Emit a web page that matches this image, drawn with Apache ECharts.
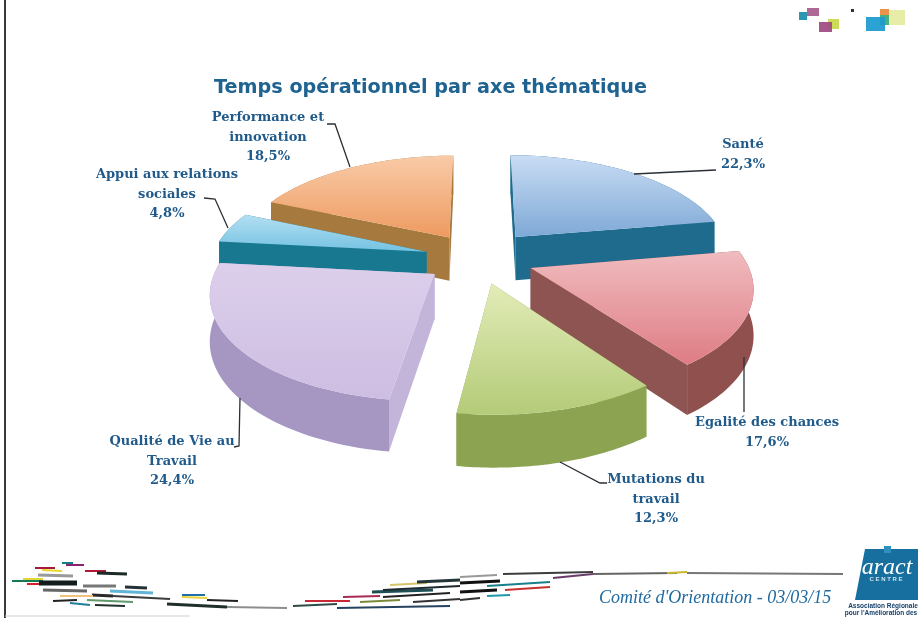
<!DOCTYPE html>
<html><head><meta charset="utf-8">
<style>html,body{margin:0;padding:0;background:#fff}#c{width:918px;height:618px;filter:blur(0.45px)}</style>
<script src="https://cdn.jsdelivr.net/npm/echarts@6/dist/echarts.min.js"></script>
</head><body><div id="c"></div>
<script>
// --- chart data, clockwise from 12 o'clock ---
const categories = ['Santé', 'Egalité des chances', 'Mutations du travail', 'Qualité de Vie au Travail', 'Appui aux relations sociales', 'Performance et innovation'];
const labelLines = [['Santé'], ['Egalité des chances'], ['Mutations du', 'travail'], ['Qualité de Vie au', 'Travail'], ['Appui aux relations', 'sociales'], ['Performance et', 'innovation']];
const values = [22.3, 17.6, 12.3, 24.4, 4.8, 18.5];

// --- styling, kept apart from the data ---
const topColors = [['#c9dcf4', '#7ea9d6'], ['#f0bcbf', '#de7c84'], ['#e2ecb8', '#b4cb78'], ['#dccfeb', '#cdbde2'], ['#b4dff2', '#74c2e2'], ['#f9cba8', '#ee9a60']];
const wallColors = ['#1f6b8e', '#8f504e', '#8ca451', '#a596c2', '#17788f', '#a67a3e'];
const cutColors = ['#1f6b8e', '#8e5452', '#8ca451', '#c2b5d9', '#17788f', '#a67a3e'];
const explodes = [0.28, 0.26, 0.25, 0.25, 0.25, 0.25];
const paintOrder = [5, 0, 4, 1, 3, 2];
const labelAnchors = [[743, 145], [767, 423], [656, 480], [172, 442], [167, 175], [268, 118]];
const leaders = [
  [[634, 174], [716, 170]],
  [[744, 357], [744, 412]],
  [[560, 462], [600, 483], [607, 483]],
  [[240, 398], [239, 446], [234, 447]],
  [[204, 198], [215, 199], [228, 228]],
  [[327, 124], [335, 124], [350, 167]]
];
const ribbons = [
 [62,563,73,563,'#127f86',2],[66,565,84,565,'#8a2270',2],[35,568,55,568,'#a5183f',2],[42,570,62,571,'#e6d92a',2],
 [85,571,106,571,'#b01838',2],[97,573,127,574,'#1c2b26',3],[38,575,73,576,'#9a9a9a',3],[12,581,43,581,'#137a55',2],
 [23,579,43,579,'#e2d63a',2],[27,584,40,584,'#d4202a',2],[39,583,77,583,'#141c20',5],[83,586,116,586,'#777',3],
 [125,587,147,588,'#24333a',3],[43,590,87,591,'#666',3],[110,591,153,593,'#63b4d6',3],[92,595,113,596,'#2a2a2a',3],
 [60,596,93,596,'#f0c27a',2],[113,596,170,599,'#3c3c3c',2],[53,601,77,600,'#222',2],[70,603,90,605,'#1f7f99',2],
 [95,605,125,606,'#23302c',2],[87,600,133,602,'#5f9a6a',2],[182,595,205,595,'#1e6fa8',2],[182,597,207,598,'#e9d33c',2],
 [207,600,238,601,'#222',2],[167,604,227,607,'#1f2f2c',3],[227,607,287,608,'#8d8d8d',2],[305,601,350,601,'#c82a35',2],
 [293,606,337,604,'#2c4c48',2],[337,608,450,606,'#25435f',2],[343,597,380,596,'#a82a56',2],[360,602,400,600,'#7a8a3a',2],
 [372,592,433,590,'#1d4f55',3],[390,585,427,583,'#d6c56a',2],[417,582,460,580,'#24353a',3],[383,590,460,586,'#1e2a2e',2],
 [413,602,460,599,'#333',2],[383,597,450,593,'#222',2],[460,577,497,575,'#999',2],[503,574,593,572,'#3d3d3d',2],
 [460,583,500,581,'#111',3],[487,586,550,582,'#17808a',2],[460,592,497,590,'#111',3],[505,590,550,587,'#c8322c',2],
 [487,596,510,595,'#1f97aa',2],[460,600,480,598,'#333',2],[553,578,593,574,'#6a3c6a',2],[593,574,677,573,'#666',2],
 [667,573,687,572,'#cbb92e',2],[687,573,843,574,'#777',2]
];
const swatches = [
 [799,12,8,8,'#1a8fa8'],[807,8,12,8,'#a85a8a'],[828,19,11,10,'#c8d84a'],[819,22,13,10,'#a04a80'],[851,9,3,3,'#222'],
 [889,10,16,15,'#e5eca0'],[880,9,9,6,'#e88a3a'],[880,15,9,10,'#3aa878'],[866,17,19,14,'#1a9ad0']
];

// --- projection of the exploded, tilted pie ---
const CX = 478, CY = 258;
const scaleAt = z => 215 / (1 + 0.16 * z);
const project = (x, z) => { const s = scaleAt(z); return [CX + x * s, CY - 0.47 * z * s, 0.16 * s + 10]; };
const total = values.reduce((a, b) => a + b, 0);
const spans = []; values.reduce((acc, v) => { const end = acc + v / total * Math.PI * 2; spans.push([acc, end]); return end; }, 0);

function sliceItem(params, api) {
  const i = api.value(0);
  const [a0, a1] = spans[i];
  const mid = (a0 + a1) / 2, ox = explodes[i] * Math.sin(mid), oz = explodes[i] * Math.cos(mid);
  const arc = [];
  const n = 48;
  for (let k = 0; k <= n; k++) { const a = a0 + (a1 - a0) * k / n; arc.push(project(ox + Math.sin(a), oz + Math.cos(a))); }
  const apex = project(ox, oz);
  const top = p => [p[0], p[1]];
  const low = p => [p[0], p[1] + p[2]];
  const wall = (pts, fill) => ({ type: 'polygon', shape: { points: pts.map(top).concat(pts.slice().reverse().map(low)) }, style: { fill } });
  const avgY = pts => pts.reduce((s, p) => s + p[1], 0) / pts.length;
  const walls = [
    { y: avgY([apex, arc[0]]), el: wall([apex, arc[0]], cutColors[i]) },
    { y: avgY([apex, arc[n]]), el: wall([apex, arc[n]], cutColors[i]) },
    { y: avgY(arc), el: wall(arc, wallColors[i]) }
  ].sort((a, b) => a.y - b.y).map(w => w.el);
  return { type: 'group', children: walls.concat([{
    type: 'polygon', shape: { points: [top(apex)].concat(arc.map(top)) },
    style: { fill: new echarts.graphic.LinearGradient(0, 0, 0, 1, [{ offset: 0, color: topColors[i][0] }, { offset: 1, color: topColors[i][1] }]) }
  }]) };
}

function labelItem(params, api) {
  const i = api.value(0);
  const [x, y0] = labelAnchors[i];
  const lines = labelLines[i].concat([values[i].toFixed(1).replace('.', ',') + '%']);
  return { type: 'group', children: [{
    type: 'polyline', shape: { points: leaders[i] }, style: { stroke: '#2a3036', lineWidth: 1.3, fill: null }
  }].concat(lines.map((t, k) => ({
    type: 'text', style: { text: t, x, y: y0 + k * 19.5, align: 'center', verticalAlign: 'middle', fill: '#1f5a8a', font: 'bold 13px "DejaVu Serif"' }
  }))) };
}

const chart = echarts.init(document.getElementById('c'), null, { renderer: 'canvas' });
const rows = paintOrder.map(i => ({ name: categories[i], value: [i, values[i]] }));
chart.setOption({
  animation: false,
  backgroundColor: '#fff',
  title: { text: 'Temps opérationnel par axe thématique', left: 209, top: 74, textStyle: { color: '#1f6391', fontFamily: 'DejaVu Sans', fontWeight: 'bold', fontSize: 19.2 } },
  series: [
    { type: 'custom', coordinateSystem: 'none', renderItem: sliceItem, data: rows, z: 2, silent: true },
    { type: 'custom', coordinateSystem: 'none', renderItem: labelItem, data: rows, z: 3, silent: true }
  ],
  graphic: [
    { type: 'line', shape: { x1: 5, y1: 0, x2: 5, y2: 618 }, style: { stroke: '#3a3a3a', lineWidth: 2 } },
    { type: 'line', shape: { x1: 5, y1: 616, x2: 190, y2: 616 }, style: { stroke: '#cfcfcf', lineWidth: 1 } },
    ...swatches.map(s => ({ type: 'rect', shape: { x: s[0], y: s[1], width: s[2], height: s[3] }, style: { fill: s[4], opacity: 0.92 } })),
    ...ribbons.map(r => ({ type: 'line', shape: { x1: r[0], y1: r[1], x2: r[2], y2: r[3] }, style: { stroke: r[4], lineWidth: r[5] } })),
    { type: 'text', style: { text: "Comité d'Orientation - 03/03/15", x: 599, y: 598, verticalAlign: 'middle', fill: '#1f6aa0', font: 'italic 18px "Liberation Serif"' } },
    { type: 'polygon', shape: { points: [[865, 549], [918, 549], [918, 600], [855, 600]] }, style: { fill: '#166f9f' } },
    { type: 'rect', shape: { x: 884, y: 546, width: 7, height: 7 }, style: { fill: '#2f8fbe' } },
    { type: 'text', style: { text: 'aract', x: 887, y: 568, align: 'center', verticalAlign: 'middle', fill: '#fff', font: 'italic 24px "Liberation Serif"' } },
    { type: 'text', style: { text: 'C E N T R E', x: 886, y: 579, align: 'center', verticalAlign: 'middle', fill: '#cfe3ef', font: 'bold 6px "Liberation Sans"' } },
    { type: 'text', style: { text: 'Association Régionale', x: 883, y: 606, align: 'center', verticalAlign: 'middle', fill: '#14406a', font: 'bold 6.5px "Liberation Sans"' } },
    { type: 'text', style: { text: "pour l'Amélioration des", x: 881, y: 613, align: 'center', verticalAlign: 'middle', fill: '#14406a', font: 'bold 6.5px "Liberation Sans"' } }
  ]
});
</script></body></html>
